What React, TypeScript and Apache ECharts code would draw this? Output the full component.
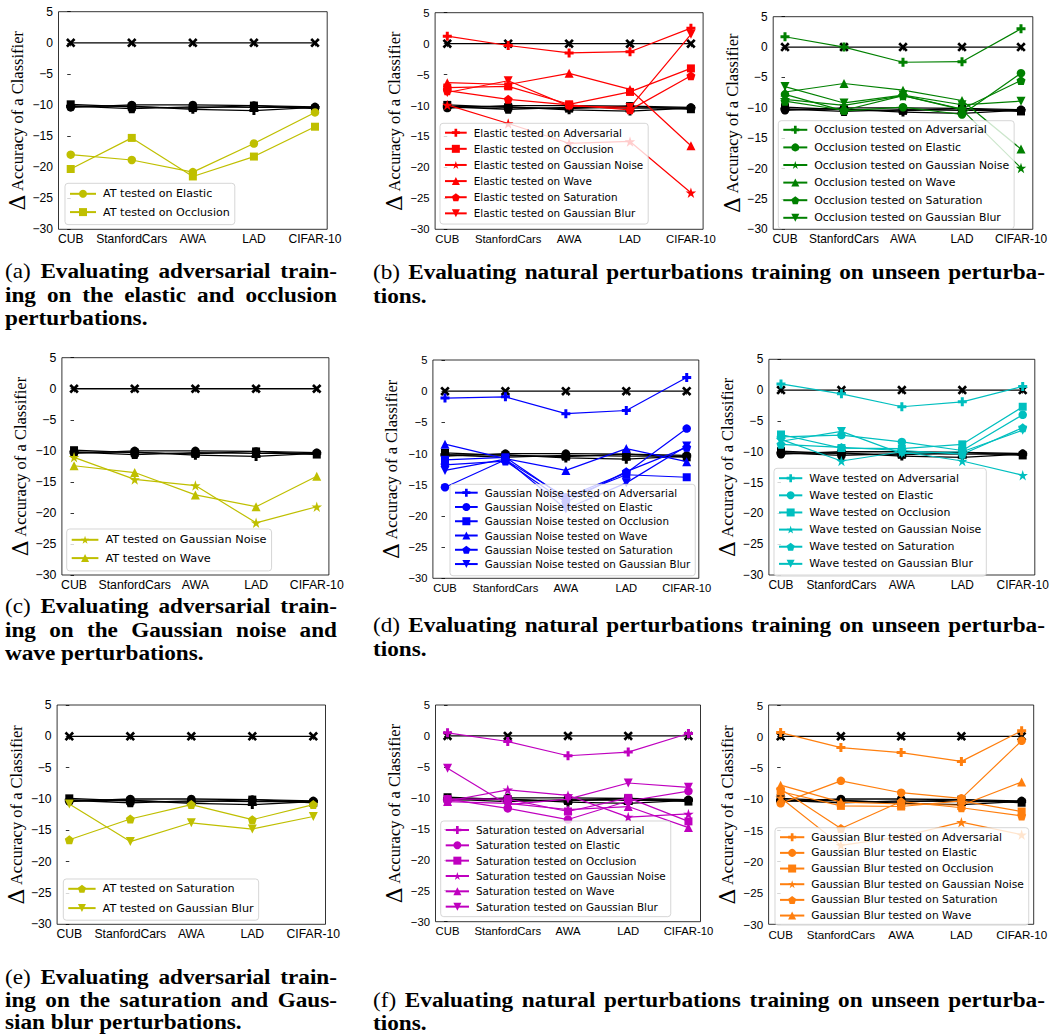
import React, { useEffect, useRef } from 'react';
import * as echarts from 'echarts';

// ---------------- data ----------------
const categories = ['CUB', 'StanfordCars', 'AWA', 'LAD', 'CIFAR-10'];
const categoryIndex = [0, 1, 2, 3, 4];
const yTickValues = [-30, -25, -20, -15, -10, -5, 0, 5];
const yMin = -30;
const yMax = 5;
const yStep = 5;

// black reference curves, shared by every panel
const baseZero = [0, 0, 0, 0, 0];
const baseCircle = [-10.4, -10.0, -10.0, -10.1, -10.3];
const baseSquare = [-9.9, -10.3, -10.5, -10.1, -10.6];
const basePlus = [-10.2, -10.2, -10.7, -10.9, -10.4];
const basePentagon = [-10.2, -10.6, -10.3, -10.4, -10.4];

// (a) adversarial training
const atElastic = [-18.0, -18.85, -20.8, -16.2, -11.2];
const atOcclusion = [-20.3, -15.3, -21.5, -18.3, -13.5];

// (b) left: elastic
const elAdv = [1.2, -0.3, -1.5, -1.3, 2.5];
const elOcc = [-7.1, -6.9, -9.8, -7.8, -4.0];
const elGN = [-9.9, -12.9, -16.1, -15.8, -24.1];
const elWave = [-6.3, -6.6, -4.8, -7.4, -16.5];
const elSat = [-7.6, -9.0, -9.9, -10.7, -5.2];
const elBlur = [-7.9, -6.0, -10.1, -10.3, 1.5];

// (b) right: occlusion
const ocAdv = [1.7, 0.0, -2.5, -2.4, 3.0];
const ocEl = [-7.8, -10.5, -9.9, -11.1, -4.3];
const ocGN = [-8.6, -9.6, -8.0, -10.3, -19.9];
const ocWave = [-7.4, -6.0, -7.1, -8.8, -16.8];
const ocSat = [-8.9, -10.4, -8.0, -10.2, -5.5];
const ocBlur = [-6.5, -9.2, -7.9, -9.5, -8.9];

// (c) adversarial training
const atGN = [-11.05, -14.6, -15.6, -21.6, -19.0];
const atWave = [-12.4, -13.5, -17.1, -19.0, -14.1];

// (d) left: gaussian noise
const gnAdv = [-1.1, -0.9, -3.6, -3.1, 2.2];
const gnEl = [-15.4, -11.0, -17.0, -13.1, -6.0];
const gnOcc = [-11.0, -10.6, -17.2, -13.4, -13.8];
const gnWave = [-8.5, -10.8, -12.7, -9.2, -11.3];
const gnSat = [-11.8, -11.2, -17.8, -12.9, -9.0];
const gnBlur = [-12.7, -10.9, -18.9, -14.7, -8.8];

// (d) right: wave
const wvAdv = [1.0, -0.6, -2.7, -1.9, 0.6];
const wvEl = [-7.6, -7.3, -8.4, -9.8, -4.0];
const wvOcc = [-7.2, -9.4, -9.5, -8.8, -2.7];
const wvGN = [-8.0, -11.5, -10.0, -11.5, -13.8];
const wvSat = [-8.8, -9.3, -9.8, -10.4, -6.1];
const wvBlur = [-8.3, -6.7, -10.3, -10.0, -6.5];

// (e) adversarial training
const atSat = [-16.5, -13.2, -10.9, -13.3, -10.9];
const atBlur = [-10.8, -16.8, -13.8, -14.8, -12.8];

// (f) left: saturation
const saAdv = [0.5, -0.9, -3.2, -2.6, 0.4];
const saEl = [-10.2, -11.7, -13.5, -10.5, -8.9];
const saOcc = [-10.2, -10.2, -12.2, -10.0, -13.8];
const saGN = [-10.5, -8.7, -9.6, -13.1, -12.6];
const saWave = [-10.6, -10.9, -11.9, -11.4, -14.8];
const saBlur = [-5.2, -11.1, -10.2, -7.6, -8.3];

// (f) right: gaussian blur
const gbAdv = [0.6, -1.8, -2.6, -4.0, 0.9];
const gbEl = [-10.7, -7.1, -9.0, -9.9, -0.7];
const gbOcc = [-8.8, -11.1, -11.2, -10.3, -12.0];
const gbGN = [-9.8, -17.4, -16.0, -13.7, -15.7];
const gbSat = [-8.4, -14.7, -10.4, -11.4, -12.7];
const gbWave = [-7.8, -10.5, -10.8, -11.0, -7.3];

// captions
const captionA = ['(a) Evaluating adversarial train-', 'ing on the elastic and occlusion', 'perturbations.'];
const captionB = ['(b) Evaluating natural perturbations training on unseen perturba-', 'tions.'];
const captionC = ['(c) Evaluating adversarial train-', 'ing on the Gaussian noise and', 'wave perturbations.'];
const captionD = ['(d) Evaluating natural perturbations training on unseen perturba-', 'tions.'];
const captionE = ['(e) Evaluating adversarial train-', 'ing on the saturation and Gaus-', 'sian blur perturbations.'];
const captionF = ['(f) Evaluating natural perturbations training on unseen perturba-', 'tions.'];

const yLabel = '{d|Δ} Accuracy of a Classifier';

// ---------------- styles ----------------
const SYMBOLS: Record<string, string> = {
  plus: 'path://M2,0H4V2H6V4H4V6H2V4H0V2H2Z',
  x: 'path://M0,1.6L1.6,0L4,2.4L6.4,0L8,1.6L5.6,4L8,6.4L6.4,8L4,5.6L1.6,8L0,6.4L2.4,4Z',
  star: 'path://M100,0L122.45,69.1L195.1,69.1L136.3,111.8L158.8,180.9L100,138.2L41.2,180.9L63.7,111.8L4.9,69.1L77.55,69.1Z',
  pentagon: 'path://M100,0L195.1,69.1L158.8,180.9L41.2,180.9L4.9,69.1Z',
  tridown: 'path://M0,0L10,0L5,8.66Z',
  triangle: 'triangle',
  circle: 'circle',
  square: 'rect',
};
const SIZES: Record<string, number> = {
  plus: 9, x: 9.5, star: 10.5, pentagon: 9, tridown: 9, triangle: 9, circle: 8.5, square: 8,
};

const C_Y = '#bfbf00';
const C_R = '#ff0000';
const C_G = '#008000';
const C_B = '#0000ff';
const C_C = '#00bfbf';
const C_M = '#bf00bf';
const C_O = '#ff7f0e';

type SeriesSpec = [string, number[], string];
type Panel = {
  grid: [number, number, number, number];
  font: number;
  legend: { left: number; top: number; spacing: number; padT: number; padB: number; iconW: number };
  color: string;
  series: SeriesSpec[];
};

const panels: Panel[] = [
  {
    grid: [58.5, 11.7, 268.7, 217.6], font: 11.1, color: C_Y,
    legend: { left: 65, top: 183.3, spacing: 17.3, padT: 5, padB: 7, iconW: 26 },
    series: [['AT tested on Elastic', atElastic, 'circle'], ['AT tested on Occlusion', atOcclusion, 'square']],
  },
  {
    grid: [435.1, 12.7, 268, 216.6], font: 10.4, color: C_R,
    legend: { left: 440, top: 123.3, spacing: 16.13, padT: 4.4, padB: 5.7, iconW: 21.7 },
    series: [
      ['Elastic tested on Adversarial', elAdv, 'plus'],
      ['Elastic tested on Occlusion', elOcc, 'square'],
      ['Elastic tested on Gaussian Noise', elGN, 'star'],
      ['Elastic tested on Wave', elWave, 'triangle'],
      ['Elastic tested on Saturation', elSat, 'pentagon'],
      ['Elastic tested on Gaussian Blur', elBlur, 'tridown'],
    ],
  },
  {
    grid: [773.2, 16.7, 259.6, 212.6], font: 10.9, color: C_G,
    legend: { left: 778.3, top: 120.7, spacing: 16.6, padT: 3.6, padB: 5.4, iconW: 24 },
    series: [
      ['Occlusion tested on Adversarial', ocAdv, 'plus'],
      ['Occlusion tested on Elastic', ocEl, 'circle'],
      ['Occlusion tested on Gaussian Noise', ocGN, 'star'],
      ['Occlusion tested on Wave', ocWave, 'triangle'],
      ['Occlusion tested on Saturation', ocSat, 'pentagon'],
      ['Occlusion tested on Gaussian Blur', ocBlur, 'tridown'],
    ],
  },
  {
    grid: [61.9, 357.7, 267, 217.3], font: 11.3, color: C_Y,
    legend: { left: 66.7, top: 529, spacing: 17.3, padT: 5.3, padB: 7.3, iconW: 26.7 },
    series: [['AT tested on Gaussian Noise', atGN, 'star'], ['AT tested on Wave', atWave, 'triangle']],
  },
  {
    grid: [432.9, 360, 265.9, 218.3], font: 10.3, color: C_B,
    legend: { left: 450, top: 484.3, spacing: 14.27, padT: 3.4, padB: 6.7, iconW: 22.7 },
    series: [
      ['Gaussian Noise tested on Adversarial', gnAdv, 'plus'],
      ['Gaussian Noise tested on Elastic', gnEl, 'circle'],
      ['Gaussian Noise tested on Occlusion', gnOcc, 'square'],
      ['Gaussian Noise tested on Wave', gnWave, 'triangle'],
      ['Gaussian Noise tested on Saturation', gnSat, 'pentagon'],
      ['Gaussian Noise tested on Gaussian Blur', gnBlur, 'tridown'],
    ],
  },
  {
    grid: [768.9, 359.3, 265.9, 215.7], font: 10.9, color: C_C,
    legend: { left: 774, top: 468.3, spacing: 16.13, padT: 4.4, padB: 6.7, iconW: 23.3 },
    series: [
      ['Wave tested on Adversarial', wvAdv, 'plus'],
      ['Wave tested on Elastic', wvEl, 'circle'],
      ['Wave tested on Occlusion', wvOcc, 'square'],
      ['Wave tested on Gaussian Noise', wvGN, 'star'],
      ['Wave tested on Saturation', wvSat, 'pentagon'],
      ['Wave tested on Gaussian Blur', wvBlur, 'tridown'],
    ],
  },
  {
    grid: [57.1, 705, 268.4, 219.3], font: 11.2, color: C_Y,
    legend: { left: 63.3, top: 879, spacing: 18.3, padT: 4.3, padB: 6.6, iconW: 27.3 },
    series: [['AT tested on Saturation', atSat, 'pentagon'], ['AT tested on Gaussian Blur', atBlur, 'tridown']],
  },
  {
    grid: [435.5, 705, 265, 216.7], font: 10.4, color: C_M,
    legend: { left: 440.7, top: 821, spacing: 15.33, padT: 4, padB: 5, iconW: 23.3 },
    series: [
      ['Saturation tested on Adversarial', saAdv, 'plus'],
      ['Saturation tested on Elastic', saEl, 'circle'],
      ['Saturation tested on Occlusion', saOcc, 'square'],
      ['Saturation tested on Gaussian Noise', saGN, 'star'],
      ['Saturation tested on Wave', saWave, 'triangle'],
      ['Saturation tested on Gaussian Blur', saBlur, 'tridown'],
    ],
  },
  {
    grid: [768.6, 705, 265.1, 219.3], font: 10.65, color: C_O,
    legend: { left: 775, top: 827.7, spacing: 14.67, padT: 4, padB: 4, iconW: 24.3 },
    series: [
      ['Gaussian Blur tested on Adversarial', gbAdv, 'plus'],
      ['Gaussian Blur tested on Elastic', gbEl, 'circle'],
      ['Gaussian Blur tested on Occlusion', gbOcc, 'square'],
      ['Gaussian Blur tested on Gaussian Noise', gbGN, 'star'],
      ['Gaussian Blur tested on Saturation', gbSat, 'pentagon'],
      ['Gaussian Blur tested on Wave', gbWave, 'triangle'],
    ],
  },
];

const baseSeries: [number[], string][] = [
  [baseCircle, 'circle'],
  [baseSquare, 'square'],
  [basePlus, 'plus'],
  [basePentagon, 'pentagon'],
  [baseZero, 'x'],
];

type Caption = { lines: string[]; x0: number; x1: number; y: number; lh: number; justify: boolean[] };
const captions: Caption[] = [
  { lines: captionA, x0: 5, x1: 337, y: 271, lh: 23.5, justify: [true, true, false] },
  { lines: captionB, x0: 373, x1: 1045, y: 272, lh: 23.5, justify: [true, false] },
  { lines: captionC, x0: 5, x1: 337, y: 606, lh: 23.5, justify: [true, true, false] },
  { lines: captionD, x0: 373, x1: 1045, y: 625, lh: 23.5, justify: [true, false] },
  { lines: captionE, x0: 5, x1: 337, y: 977, lh: 22.5, justify: [true, true, false] },
  { lines: captionF, x0: 373, x1: 1045, y: 1000, lh: 22.5, justify: [true, false] },
];
const CAP_SIZE = 21.5;
const CAP_SX = 1.08;
const SERIF = 'Liberation Serif';
const TICK_FAMILY = 'Liberation Sans';

function fmtY(v: number) {
  return v < 0 ? '\u2212' + String(Math.abs(v)) : String(v);
}
function tickFontOf(p: Panel) {
  return Math.round(p.font * 1.09 * 10) / 10;
}

function buildCaptionElements() {
  const canvas = document.createElement('canvas');
  const ctx = canvas.getContext('2d')!;
  const els: any[] = [];
  captions.forEach((cap) => {
    cap.lines.forEach((line, li) => {
      const words = line.split(' ');
      const weights = words.map((_, i) => (li === 0 && i === 0 ? 'normal' : 'bold'));
      const widths = words.map((w, i) => {
        ctx.font = `${weights[i]} ${CAP_SIZE}px "${SERIF}"`;
        return ctx.measureText(w).width * CAP_SX;
      });
      ctx.font = `bold ${CAP_SIZE}px "${SERIF}"`;
      const spaceW = ctx.measureText(' ').width * CAP_SX;
      const total = widths.reduce((a, b) => a + b, 0);
      let gap = spaceW;
      if (cap.justify[li] && words.length > 1) gap = (cap.x1 - cap.x0 - total) / (words.length - 1);
      let x = cap.x0;
      words.forEach((w, i) => {
        els.push({
          type: 'text',
          x,
          y: cap.y + li * cap.lh,
          scaleX: CAP_SX,
          silent: true,
          style: {
            text: w,
            fontSize: CAP_SIZE,
            fontFamily: SERIF,
            fontWeight: weights[i],
            fill: '#000',
            align: 'left',
            verticalAlign: 'middle',
          },
        });
        x += widths[i] + gap;
      });
    });
  });
  return els;
}

function buildOption() {
  const grid: any[] = [];
  const xAxis: any[] = [];
  const yAxis: any[] = [];
  const legend: any[] = [];
  const series: any[] = [];

  panels.forEach((p, idx) => {
    const tickFont = tickFontOf(p);
    grid.push({
      left: p.grid[0], top: p.grid[1], width: p.grid[2], height: p.grid[3],
      show: true, borderColor: '#000', borderWidth: 0.8, backgroundColor: 'transparent',
      containLabel: false, outerBoundsMode: 'none',
    });
    xAxis.push({
      gridIndex: idx, type: 'value', min: -0.2, max: 4.2,
      axisLine: { show: false }, splitLine: { show: false },
      axisTick: { show: true, length: 3.5, lineStyle: { color: '#000', width: 0.8 }, customValues: categoryIndex },
      axisLabel: {
        customValues: categoryIndex,
        formatter: (v: number) => categories[Math.round(v)] ?? '',
        fontSize: tickFont, fontFamily: TICK_FAMILY, color: '#000', margin: 4,
      },
    });
    yAxis.push({
      gridIndex: idx, type: 'value', min: yMin, max: yMax, interval: yStep,
      axisLine: { show: false }, splitLine: { show: false },
      axisTick: { show: true, length: 3.5, lineStyle: { color: '#000', width: 0.8 } },
      axisLabel: { show: false },
      name: yLabel, nameLocation: 'middle', nameGap: 30, nameRotate: 90,
      nameTextStyle: {
        fontFamily: SERIF, fontSize: 16.5, color: '#000',
        rich: { d: { fontFamily: 'DejaVu Serif', fontSize: 22, color: '#000' } },
      },
    });
    legend.push({
      show: true, orient: 'vertical', left: p.legend.left, top: p.legend.top,
      data: p.series.map((s) => s[0]),
      itemWidth: p.legend.iconW, itemHeight: 10, itemGap: p.legend.spacing - 10,
      padding: [p.legend.padT, 5, p.legend.padB, 4],
      backgroundColor: 'rgba(255,255,255,0.8)', borderColor: 'rgba(204,204,204,0.8)',
      borderWidth: 1, borderRadius: 3, selectedMode: false,
      textStyle: { fontSize: p.font, fontFamily: 'DejaVu Sans', color: '#000', lineHeight: 10, padding: [0, 0, 0, 2] },
    });
    baseSeries.forEach(([vals, sym]) => {
      series.push({
        type: 'line', xAxisIndex: idx, yAxisIndex: idx, silent: true, clip: false,
        data: vals.map((v, k) => [categoryIndex[k], v]),
        symbol: SYMBOLS[sym], symbolSize: SIZES[sym],
        lineStyle: { color: '#000', width: 1.3 }, itemStyle: { color: '#000' },
        emphasis: { disabled: true }, z: 2,
      });
    });
    p.series.forEach(([name, vals, sym]) => {
      series.push({
        type: 'line', name, xAxisIndex: idx, yAxisIndex: idx, clip: false,
        data: vals.map((v, k) => [categoryIndex[k], v]),
        symbol: SYMBOLS[sym], symbolSize: SIZES[sym],
        lineStyle: { color: p.color, width: 1.2 }, itemStyle: { color: p.color },
        emphasis: { disabled: true }, z: 3,
      });
    });
  });

  return {
    animation: false,
    backgroundColor: '#fff',
    textStyle: { fontFamily: 'DejaVu Sans' },
    grid, xAxis, yAxis, legend, series,
  };
}

// y tick labels placed through the library's own y scale
function buildYLabelElements(chart: echarts.ECharts) {
  const els: any[] = [];
  panels.forEach((p, idx) => {
    yTickValues.forEach((v) => {
      const py = chart.convertToPixel({ yAxisIndex: idx } as any, v) as unknown as number;
      els.push({
        type: 'text',
        x: p.grid[0] - 5.5,
        y: py,
        silent: true,
        style: {
          text: fmtY(v),
          fontSize: tickFontOf(p),
          fontFamily: TICK_FAMILY,
          fill: '#000',
          align: 'right',
          verticalAlign: 'middle',
        },
      });
    });
  });
  return els;
}

export default function App() {
  const ref = useRef<HTMLDivElement>(null);
  useEffect(() => {
    const chart = echarts.init(ref.current!, null, { renderer: 'svg' });
    chart.setOption(buildOption() as any);
    const elements = [...buildCaptionElements(), ...buildYLabelElements(chart)];
    chart.setOption({ graphic: { elements } } as any);
    return () => chart.dispose();
  }, []);
  return (
    <div
      ref={ref}
      style={{ position: 'absolute', left: 0, top: 0, width: 1049, height: 1034, background: '#fff' }}
    />
  );
}
